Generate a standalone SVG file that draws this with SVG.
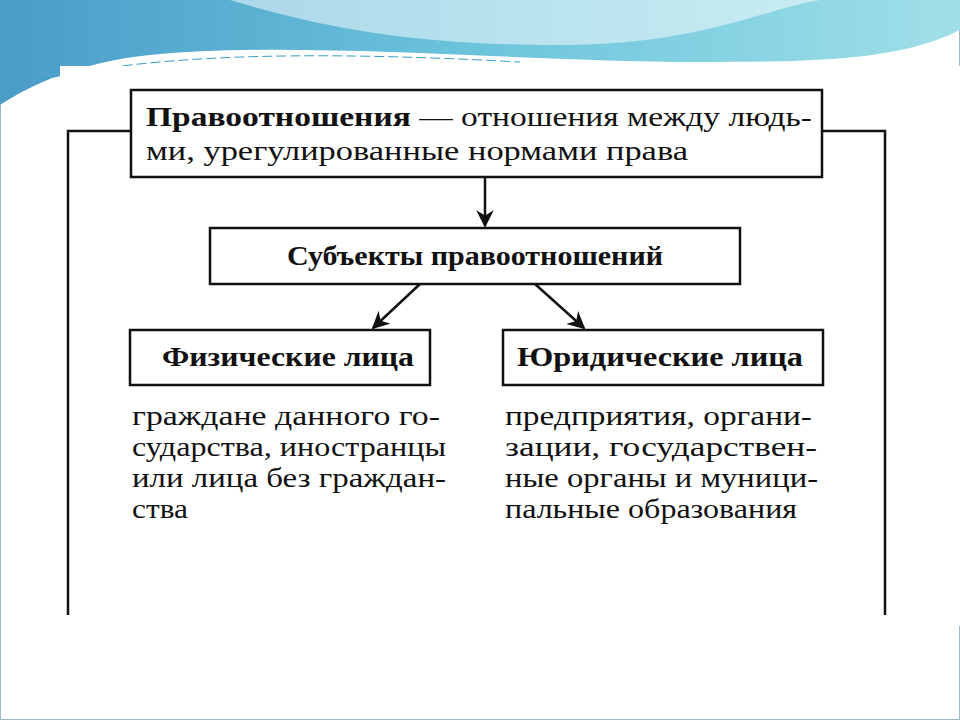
<svg xmlns="http://www.w3.org/2000/svg" width="960" height="720" viewBox="0 0 960 720">
<defs>
<linearGradient id="sky" x1="0" y1="0" x2="1" y2="0"><stop offset="0" stop-color="#4a9cc8"/><stop offset="0.5" stop-color="#6cc4dc"/><stop offset="1" stop-color="#a0dfe8"/></linearGradient>
<marker id="ah" viewBox="0 0 10 10" refX="9" refY="5" markerWidth="7" markerHeight="7" orient="auto"><path d="M0,0 L10,5 L0,10 L3,5 Z" fill="#111"/></marker>
<style>
.box{fill:#fff;stroke:#111;stroke-width:2.5}
.t{font-family:"Liberation Serif",serif;font-size:28px;fill:#111}
.b{font-weight:bold}
.c{stroke:#111;stroke-width:2.5;fill:none}
</style>
</defs>
<rect width="960" height="720" fill="#fff"/>
<rect width="960" height="720" fill="none" stroke="#9fb8c8" stroke-width="2"/>
<path d="M0,0 H960 V30 C900,60 820,62 700,62 C520,62 300,40 150,55 C80,62 30,85 0,105 Z" fill="url(#sky)"/>
<path d="M230,0 C330,30 420,45 560,45 C700,45 760,10 820,0 Z" fill="#fff" opacity="0.5"/>
<path d="M40,80 C150,55 300,50 520,62" stroke="#3a9fc5" stroke-width="1" fill="none" stroke-dasharray="10 4"/>
<rect x="60" y="66" width="900" height="560" fill="#fff"/>
<g id="connectors">
<polyline class="c" points="131,131 68,131 68,615"/>
<polyline class="c" points="822,131 885,131 885,615"/>
<line class="c" x1="485" y1="177" x2="485" y2="226" marker-end="url(#ah)"/>
<line class="c" x1="420" y1="284" x2="373" y2="328" marker-end="url(#ah)"/>
<line class="c" x1="535" y1="284" x2="584" y2="328" marker-end="url(#ah)"/>
</g>
<g id="main">
<rect class="box" x="131" y="90" width="691" height="87"/>
<text class="t" x="146" y="126" textLength="666" lengthAdjust="spacingAndGlyphs"><tspan class="b">Правоотношения</tspan> — отношения между людь-</text>
<text class="t" x="146" y="160" textLength="542" lengthAdjust="spacingAndGlyphs">ми, урегулированные нормами права</text>
</g>
<g id="subjects">
<rect class="box" x="210" y="228" width="530" height="56"/>
<text class="t b" x="287" y="265" textLength="376" lengthAdjust="spacingAndGlyphs">Субъекты правоотношений</text>
</g>
<g id="physical">
<rect class="box" x="130" y="330" width="300" height="55"/>
<text class="t b" x="162" y="366" textLength="252" lengthAdjust="spacingAndGlyphs">Физические лица</text>
<text class="t" x="132" y="425" textLength="308" lengthAdjust="spacingAndGlyphs">граждане данного го-</text>
<text class="t" x="132" y="456" textLength="314" lengthAdjust="spacingAndGlyphs">сударства, иностранцы</text>
<text class="t" x="132" y="487" textLength="314" lengthAdjust="spacingAndGlyphs">или лица без граждан-</text>
<text class="t" x="132" y="518" textLength="56" lengthAdjust="spacingAndGlyphs">ства</text>
</g>
<g id="legal">
<rect class="box" x="503" y="330" width="320" height="55"/>
<text class="t b" x="517" y="366" textLength="286" lengthAdjust="spacingAndGlyphs">Юридические лица</text>
<text class="t" x="505" y="425" textLength="307" lengthAdjust="spacingAndGlyphs">предприятия, органи-</text>
<text class="t" x="505" y="456" textLength="312" lengthAdjust="spacingAndGlyphs">зации,  государствен-</text>
<text class="t" x="505" y="487" textLength="313" lengthAdjust="spacingAndGlyphs">ные органы и муници-</text>
<text class="t" x="505" y="518" textLength="292" lengthAdjust="spacingAndGlyphs">пальные образования</text>
</g>
</svg>
